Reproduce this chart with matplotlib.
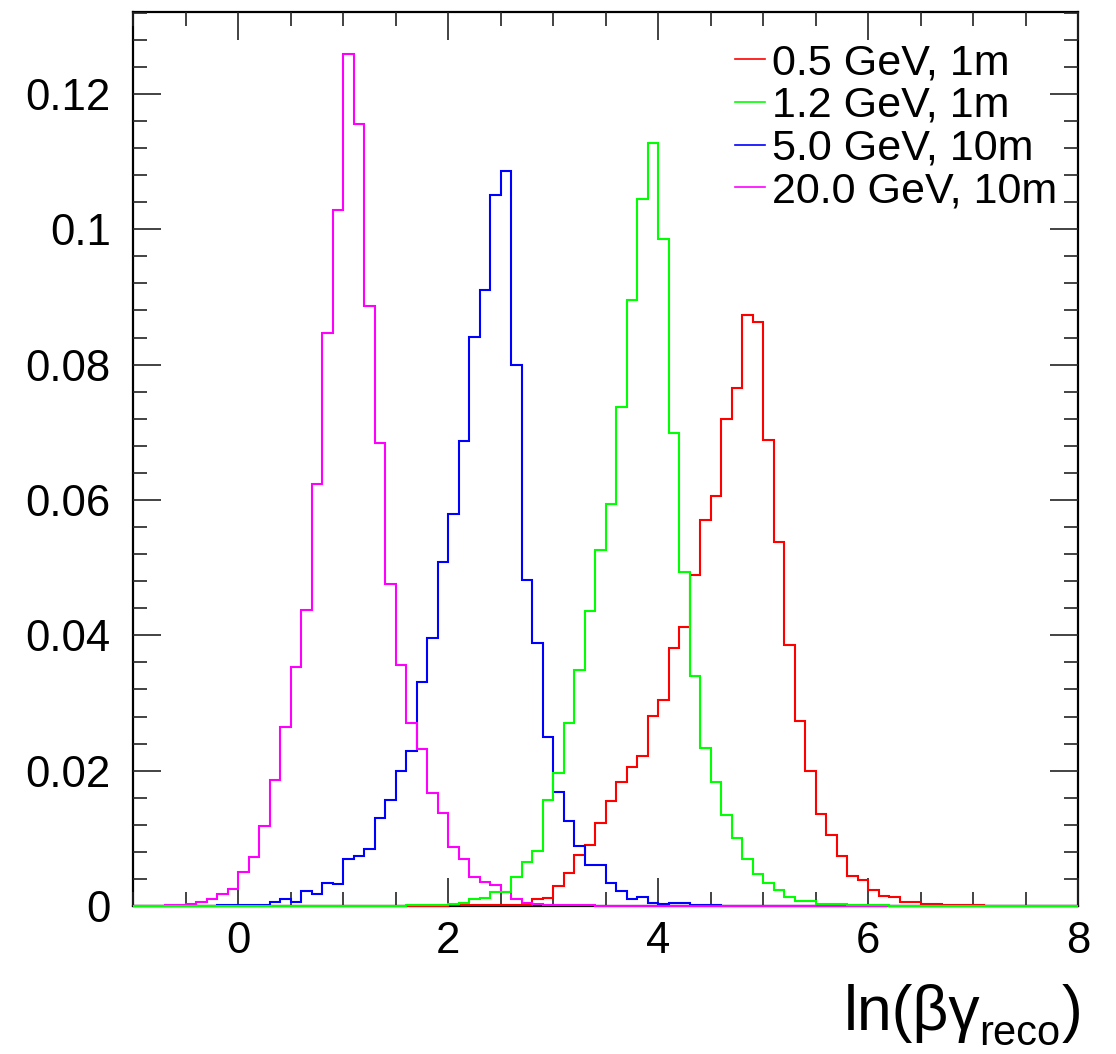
import numpy as np
import matplotlib
matplotlib.use("Agg")
import matplotlib.pyplot as plt
from matplotlib.lines import Line2D
from matplotlib.ticker import MultipleLocator, FuncFormatter

plt.rcParams['font.family'] = ['Liberation Sans', 'DejaVu Sans']
plt.rcParams['mathtext.fontset'] = 'custom'
plt.rcParams['mathtext.rm'] = 'Liberation Sans'
plt.rcParams['mathtext.it'] = 'Liberation Sans:italic'

# ---------------- data ----------------
x_min, x_max, n_bins = -1.0, 8.0, 90

labels = ["0.5 GeV, 1m", "1.2 GeV, 1m", "5.0 GeV, 10m", "20.0 GeV, 10m"]
colors = ["#ff0000", "#00ff00", "#0000ff", "#ff00ff"]

# first bin lower edge of each listed series, then bin contents (bin width 0.1)
red_start = 2.0
red_vals = [0.0001, 0.0001, 0.0001, 0.0001, 0.0001, 0.0001, 0.0001, 0.0002,
            0.0010, 0.0012, 0.0030, 0.0049, 0.0076, 0.0090, 0.0122, 0.0155,
            0.0183, 0.0205, 0.0221, 0.0281, 0.0305, 0.0381, 0.0412, 0.0489,
            0.0570, 0.0606, 0.0719, 0.0766, 0.0874, 0.0863, 0.0688, 0.0538,
            0.0386, 0.0273, 0.0200, 0.0136, 0.0105, 0.0074, 0.0044, 0.0038,
            0.0023, 0.0015, 0.0014, 0.0006, 0.0006, 0.0003, 0.0003, 0.0001,
            0.0001, 0.0001, 0.0001]

green_start = 1.6
green_vals = [0.0001, 0.0001, 0.0002, 0.0002, 0.0003, 0.0004, 0.0010, 0.0012,
              0.0021, 0.0021, 0.0043, 0.0065, 0.0081, 0.0156, 0.0197, 0.0270,
              0.0349, 0.0436, 0.0526, 0.0594, 0.0738, 0.0896, 0.1044, 0.1127,
              0.0986, 0.0699, 0.0494, 0.0340, 0.0234, 0.0183, 0.0135, 0.0101,
              0.0069, 0.0047, 0.0034, 0.0023, 0.0013, 0.0007, 0.0007, 0.0003,
              0.0003, 0.0003, 0.0001, 0.0001, 0.0001, 0.0001]

blue_start = -0.2
blue_vals = [0.0001, 0.0001, 0.0001, 0.0002, 0.0001, 0.0006, 0.0010, 0.0006,
             0.0022, 0.0017, 0.0034, 0.0033, 0.0069, 0.0074, 0.0084, 0.0130,
             0.0156, 0.0200, 0.0229, 0.0331, 0.0396, 0.0508, 0.0579, 0.0687,
             0.0841, 0.0910, 0.1050, 0.1086, 0.0800, 0.0482, 0.0388, 0.0250,
             0.0168, 0.0125, 0.0089, 0.0061, 0.0060, 0.0034, 0.0022, 0.0010,
             0.0013, 0.0005, 0.0003, 0.0004, 0.0004, 0.0001, 0.0001, 0.0001]

magenta_start = -0.7
magenta_vals = [0.0001, 0.0001, 0.0003, 0.0006, 0.0010, 0.0018, 0.0025, 0.0050,
                0.0072, 0.0118, 0.0186, 0.0264, 0.0353, 0.0437, 0.0624, 0.0847,
                0.1029, 0.1259, 0.1156, 0.0887, 0.0684, 0.0476, 0.0356, 0.0271,
                0.0232, 0.0167, 0.0138, 0.0087, 0.0070, 0.0043, 0.0035, 0.0031,
                0.0021, 0.0011, 0.0005, 0.0003, 0.0002, 0.0002, 0.0001, 0.0001,
                0.0001]

y_max = 0.1321

# ---------------- build full histograms ----------------
edges = np.linspace(x_min, x_max, n_bins + 1)
bin_w = (x_max - x_min) / n_bins


def full_hist(start, vals):
    h = np.zeros(n_bins)
    i0 = int(round((start - x_min) / bin_w))
    h[i0:i0 + len(vals)] = vals
    return h


series = [full_hist(red_start, red_vals),
          full_hist(green_start, green_vals),
          full_hist(blue_start, blue_vals),
          full_hist(magenta_start, magenta_vals)]

# ---------------- figure ----------------
W, H = 1116, 1054
fig = plt.figure(figsize=(W / 100, H / 100), dpi=100)
ax = fig.add_axes([133 / W, 148 / H, (1078 - 133) / W, (1042 - 148) / H])

draw_order = [0, 2, 3, 1]
for k in draw_order:
    ax.stairs(series[k], edges, color=colors[k], lw=1.5, baseline=0,
              zorder=2 + (k == 1), clip_on=False)

ax.set_xlim(x_min, x_max)
ax.set_ylim(0, y_max)

ax.xaxis.set_major_locator(MultipleLocator(2))
ax.xaxis.set_minor_locator(MultipleLocator(0.5))
ax.yaxis.set_major_locator(MultipleLocator(0.02))
ax.yaxis.set_minor_locator(MultipleLocator(0.004))
ax.yaxis.set_major_formatter(FuncFormatter(lambda v, p: "%g" % round(v, 4)))
ax.xaxis.set_major_formatter(FuncFormatter(lambda v, p: "%g" % v))

ax.tick_params(which='both', direction='in', top=True, right=True,
               width=1.2, color='#222222')
ax.tick_params(which='major', length=20, labelsize=31.5)
ax.tick_params(which='minor', length=10)
ax.tick_params(axis='x', which='major', pad=11)
ax.tick_params(axis='y', which='major', pad=16)

for sp in ax.spines.values():
    sp.set_linewidth(1.6)
    sp.set_zorder(1.5)

# ---------------- x-axis title (ROOT style, right aligned) ----------------
title_family = ['Liberation Sans', 'DejaVu Sans']
renderer = fig.canvas.get_renderer()
base_y = (H - 1030) / H
sub_y = (H - 1045) / H

t_close = fig.text(1082 / W, base_y, ")", fontsize=45, family=title_family,
                   ha='right', va='baseline')
bb = t_close.get_window_extent(renderer)
t_sub = fig.text((bb.x0 - 1) / W, sub_y, "reco", fontsize=30,
                 family=title_family, ha='right', va='baseline')
bb = t_sub.get_window_extent(renderer)
fig.text((bb.x0 + 1) / W, base_y, "ln(βγ", fontsize=45, family=title_family,
         ha='right', va='baseline')

handles = [Line2D([], [], color=c, lw=1.2) for c in colors]
ax.legend(handles, labels, loc='upper left',
          bbox_to_anchor=((735 - 133) / 945, (906 - 43) / 894),
          frameon=False, fontsize=31, handlelength=0.7, handletextpad=0.16,
          labelspacing=0.065, borderpad=0, borderaxespad=0)

fig.savefig("out.png", dpi=100)
